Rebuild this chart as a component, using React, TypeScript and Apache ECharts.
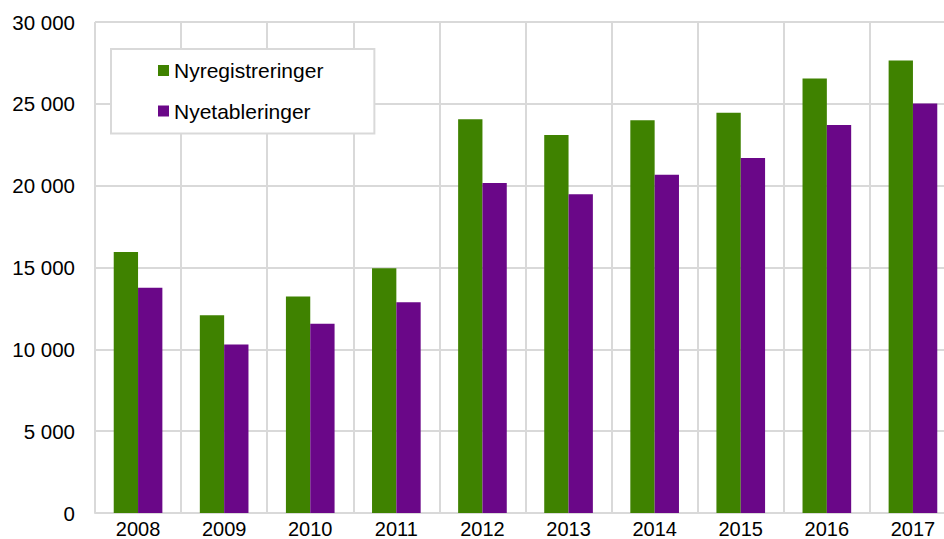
import React, { useEffect, useRef } from "react";
import * as echarts from "echarts";

const years = ["2008", "2009", "2010", "2011", "2012", "2013", "2014", "2015", "2016", "2017"];
const nyregistreringer = [15950, 12080, 13230, 14950, 24060, 23090, 24000, 24460, 26550, 27650];
const nyetableringer = [13770, 10300, 11570, 12880, 20170, 19480, 20660, 21690, 23700, 25020];
const seriesNames = ["Nyregistreringer", "Nyetableringer"];
const colors = ["#3f8200", "#6a0788"];

const fmt = (v: number) => String(v).replace(/\B(?=(\d{3})+(?!\d))/g, " ");

export default function App() {
  const ref = useRef<HTMLDivElement>(null);
  useEffect(() => {
    if (!ref.current) return;
    const chart = echarts.init(ref.current, undefined, { renderer: "svg" });
    const font = "'Liberation Sans', Arial, sans-serif";
    chart.setOption({
      animation: false,
      textStyle: { fontFamily: font },
      grid: {
        left: 95,
        top: 22,
        height: 491,
        width: 861,
        containLabel: false,
        outerBoundsMode: "none",
      },
      legend: {
        orient: "vertical",
        left: 111,
        top: 49,
        padding: [11, 51, 12, 47],
        itemWidth: 11,
        itemHeight: 11,
        itemGap: 19.5,
        backgroundColor: "#ffffff",
        borderColor: "#d9d9d9",
        borderWidth: 2,
        borderRadius: 0,
        selectedMode: false,
        icon: "rect",
        textStyle: { fontSize: 21, color: "#000", fontFamily: font, lineHeight: 20 },
        data: seriesNames,
      },
      xAxis: {
        type: "category",
        data: years,
        axisLine: { show: true, lineStyle: { color: "#d9d9d9", width: 2 } },
        axisTick: { show: false },
        splitLine: { show: true, lineStyle: { color: "#d9d9d9", width: 2 } },
        axisLabel: { fontSize: 20, lineHeight: 17, color: "#000", margin: 7, fontFamily: font },
      },
      yAxis: {
        type: "value",
        min: 0,
        max: 30000,
        interval: 5000,
        axisLine: { show: false },
        axisTick: { show: false },
        splitLine: { show: true, lineStyle: { color: "#d9d9d9", width: 2 } },
        axisLabel: { fontSize: 20.5, color: "#000", margin: 20, formatter: fmt, fontFamily: font },
      },
      series: [
        {
          name: seriesNames[0],
          type: "bar",
          data: nyregistreringer,
          itemStyle: { color: colors[0] },
          barGap: "0%",
          barCategoryGap: "43.5%",
          z: 3,
        },
        {
          name: seriesNames[1],
          type: "bar",
          data: nyetableringer,
          itemStyle: { color: colors[1] },
          barGap: "0%",
          barCategoryGap: "43.5%",
          z: 3,
        },
      ],
    });
    return () => chart.dispose();
  }, []);
  return (
    <div
      ref={ref}
      style={{ position: "fixed", left: 0, top: 0, width: 944, height: 539, background: "#fff" }}
    />
  );
}
